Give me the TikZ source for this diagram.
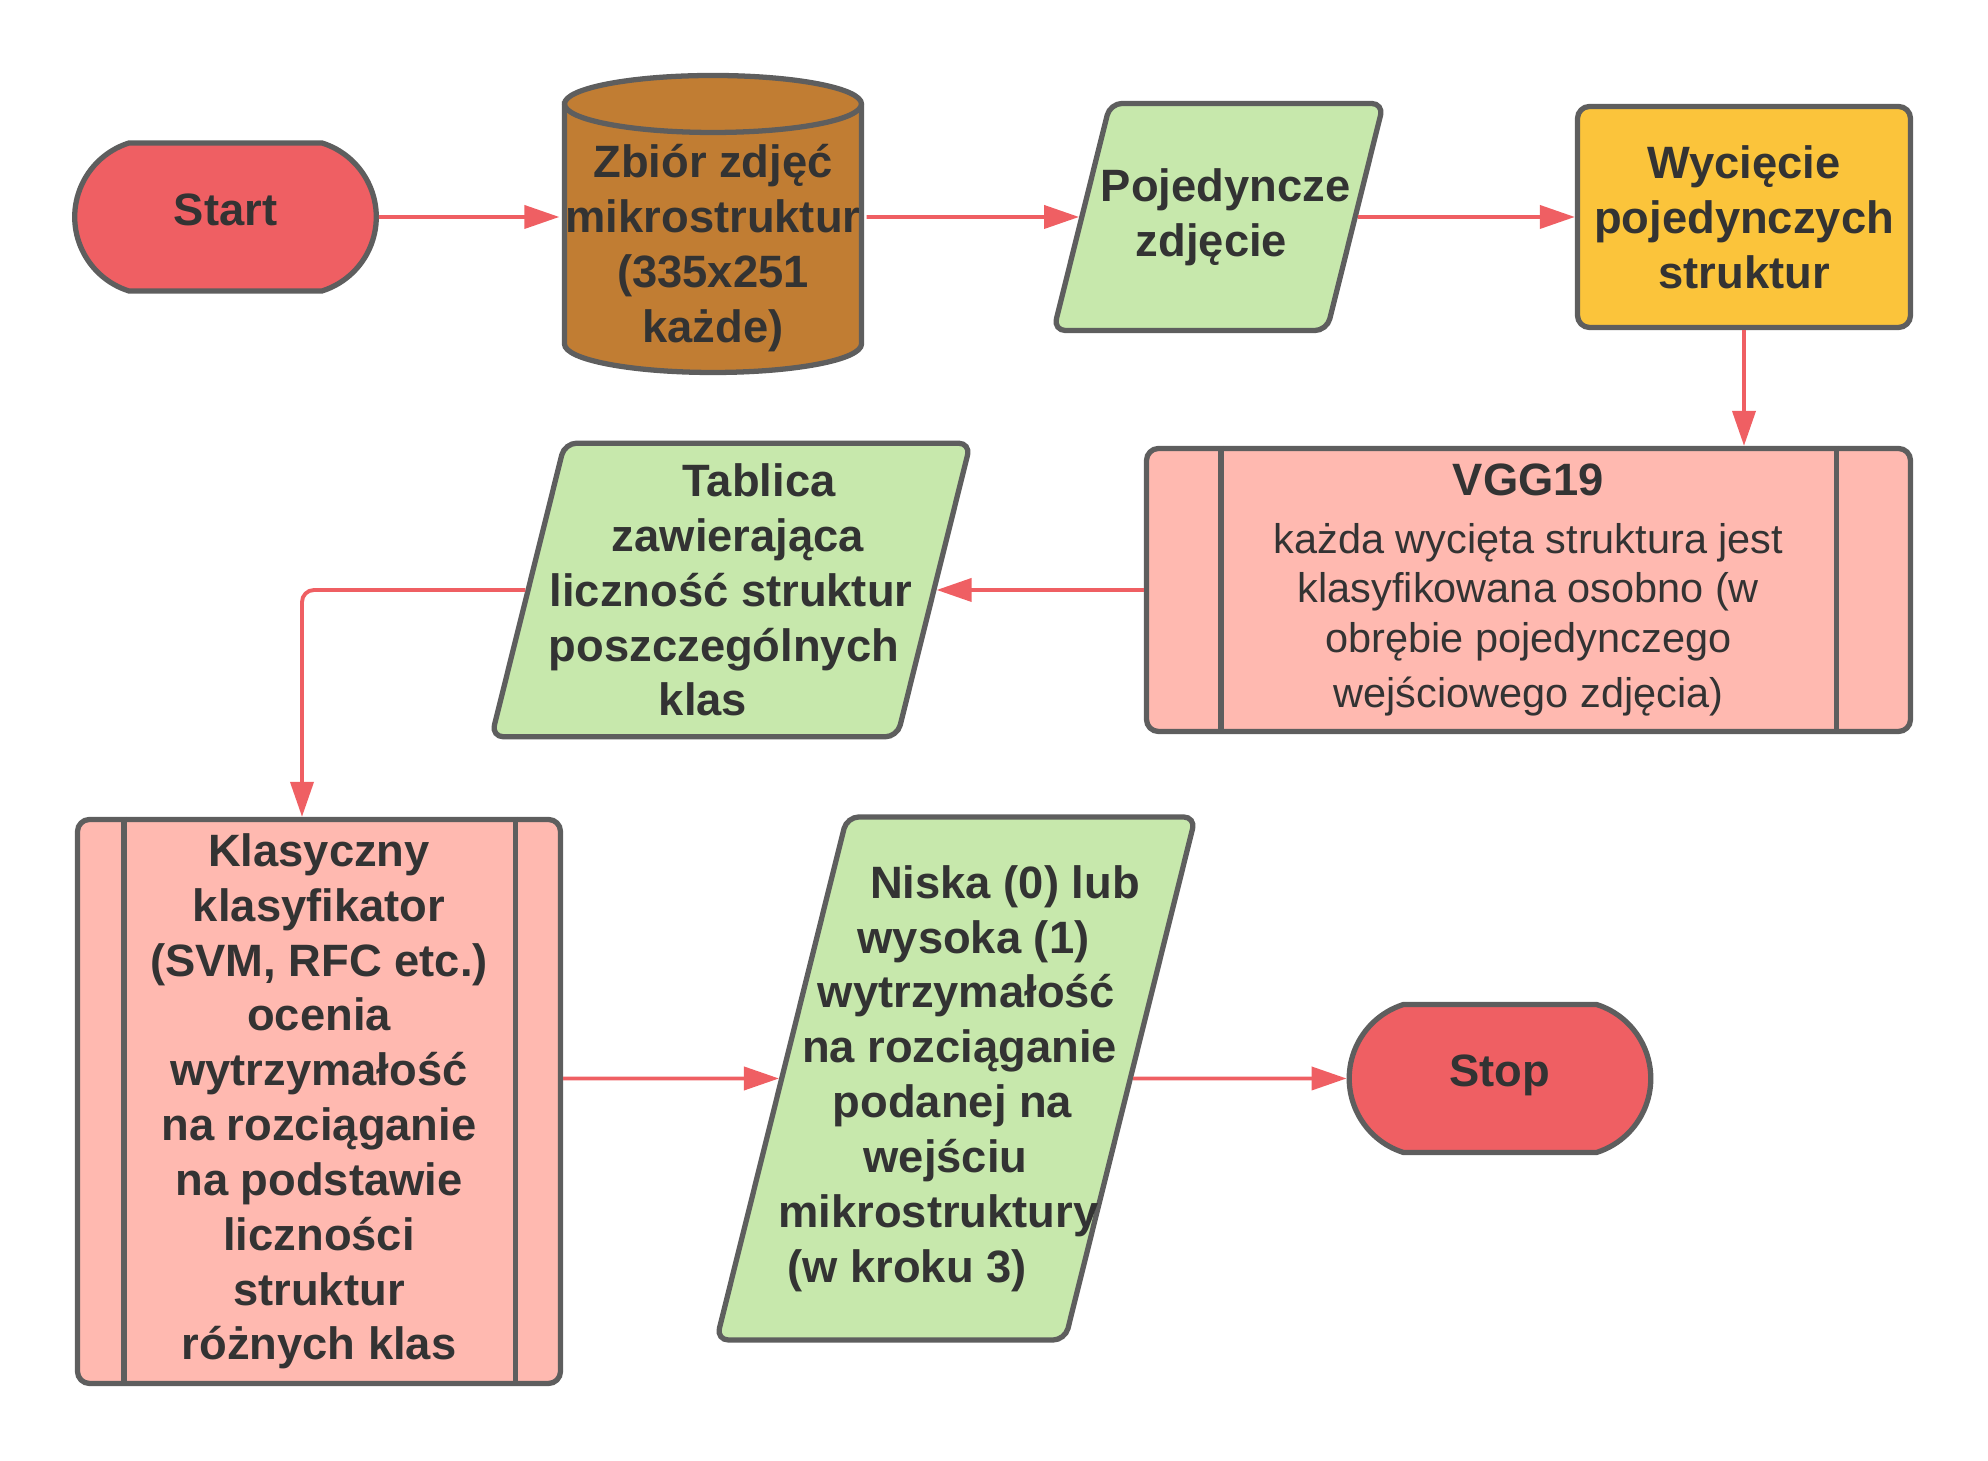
\documentclass[tikz,border=0pt]{standalone}
\usepackage{fontspec}
\setmainfont{Liberation Sans}
\usepackage{tikz}
\usetikzlibrary{arrows.meta,shapes.geometric,shapes.misc,positioning}

\definecolor{termred}{HTML}{EF5F63}
\definecolor{dbbrown}{HTML}{C17D33}
\definecolor{iogreen}{HTML}{C7E8AC}
\definecolor{procyellow}{HTML}{FBC43B}
\definecolor{subpink}{HTML}{FFB9B0}
\definecolor{wallgray}{HTML}{5E5E5E}
\definecolor{txtgray}{HTML}{333333}
\definecolor{linkred}{HTML}{EF5F63}

% shift one line of a slanted box sideways
\newcommand{\shiftln}[2]{\hspace*{#1}#2\hspace*{-#1}}

\begin{document}
\begin{tikzpicture}[
    wall/.style={draw=wallgray, line width=1.5pt},
    box/.style={wall, text=txtgray, align=center, font=\bfseries\fontsize{12.9}{15.6}\selectfont},
    term/.style={box, rounded rectangle, rounded rectangle arc length=145, fill=termred,
      minimum width=3.25cm, minimum height=1.48cm, text depth=0.15cm},
    io/.style={box, trapezium, trapezium left angle=76, trapezium right angle=104,
      trapezium stretches body, rounded corners=0.12cm, inner xsep=-0.8cm, fill=iogreen},
    proc/.style={box, rectangle, rounded corners=0.12cm, inner sep=0.05cm},
    link/.style={draw=linkred, line width=1.1pt, -{Triangle[length=3.5mm,width=2.3mm]}}
  ]
  \useasboundingbox (0,0) rectangle (19.88,14.61);

  % Terminals
  \node[term] (start) at (2.255,12.44) {Start};
  \node[term] (stop) at (15.0,3.825) {Stop};

  % Data set (cylinder)
  \draw[wall, fill=dbbrown] (5.645,13.57) -- (5.645,11.17)
    arc[start angle=180, end angle=360, x radius=1.485, y radius=0.285]
    -- (8.615,13.57)
    arc[start angle=0, end angle=180, x radius=1.485, y radius=0.285] -- cycle;
  \draw[wall] (5.645,13.57) arc[start angle=180, end angle=360, x radius=1.485, y radius=0.285];
  \node[box, draw=none, inner sep=0pt, minimum width=3.02cm] (data) at (7.13,12.13)
    {Zbiór zdjęć\\mikrostruktur\\(335x251\\każde)};

  % Input / output
  \node[io, inner ysep=0.65cm, minimum width=3.30cm, minimum height=2.21cm] (single) at (12.185,12.44)
    {\shiftln{0.07cm}{Pojedyncze}\\\shiftln{-0.07cm}{zdjęcie}};
  \node[io, inner ysep=0.205cm, minimum width=4.79cm, minimum height=2.89cm] (table) at (7.31,8.71)
    {\shiftln{0.28cm}{Tablica}\\\shiftln{0.14cm}{zawierająca}\\liczność struktur\\
     \shiftln{-0.14cm}{poszczególnych}\\\shiftln{-0.28cm}{klas}};
  \node[io, inner ysep=0.485cm, minimum width=4.79cm, minimum height=5.16cm] (result) at (9.56,3.825)
    {\shiftln{0.49cm}{Niska (0) lub}\\\shiftln{0.35cm}{wysoka (1)}\\
     \shiftln{0.21cm}{wytrzymałość}\\\shiftln{0.07cm}{na rozciąganie}\\
     \shiftln{-0.07cm}{podanej na}\\\shiftln{-0.21cm}{wejściu}\\
     \shiftln{-0.35cm}{mikrostruktury}\\\shiftln{-0.49cm}{(w kroku 3)}};

  % Processes
  \node[proc, fill=procyellow, minimum width=3.33cm, minimum height=2.21cm] (cut) at (17.44,12.44)
    {Wycięcie\\pojedynczych\\struktur};
  \node[proc, fill=subpink, align=flush center, text width=6cm, minimum width=7.64cm, minimum height=2.83cm] (vgg) at (15.285,8.71)
    {VGG19\\[0.08cm]\mdseries\fontsize{11.8}{14.1}\selectfont każda wycięta struktura jest\\
     klasyfikowana osobno (w\\obrębie pojedynczego\\wejściowego zdjęcia)};
  \node[proc, fill=subpink, minimum width=4.83cm, minimum height=5.64cm] (classifier) at (3.19,3.595)
    {Klasyczny\\klasyfikator\\(SVM, RFC etc.)\\ocenia\\wytrzymałość\\na rozciąganie\\
     na podstawie\\liczności\\struktur\\różnych klas};

  % Side bars
  \draw[wall] ([xshift=0.77cm]vgg.north west) -- ([xshift=0.77cm]vgg.south west);
  \draw[wall] ([xshift=-0.77cm]vgg.north east) -- ([xshift=-0.77cm]vgg.south east);
  \draw[wall] ([xshift=0.49cm]classifier.north west) -- ([xshift=0.49cm]classifier.south west);
  \draw[wall] ([xshift=-0.48cm]classifier.north east) -- ([xshift=-0.48cm]classifier.south east);

  % Flow
  \draw[link] (start) -- (start -| data.west);
  \draw[link] (start -| data.east) -- (single);
  \draw[link] (single) -- (cut);
  \draw[link] (cut.south) -- (cut.south |- vgg.north);
  \draw[link] (vgg) -- (table);
  \draw[link, rounded corners=0.12cm] (table.west) -| ([xshift=-0.17cm]classifier.north);
  \draw[link] (classifier.east |- result) -- (result);
  \draw[link] (result) -- (stop);
\end{tikzpicture}
\end{document}
